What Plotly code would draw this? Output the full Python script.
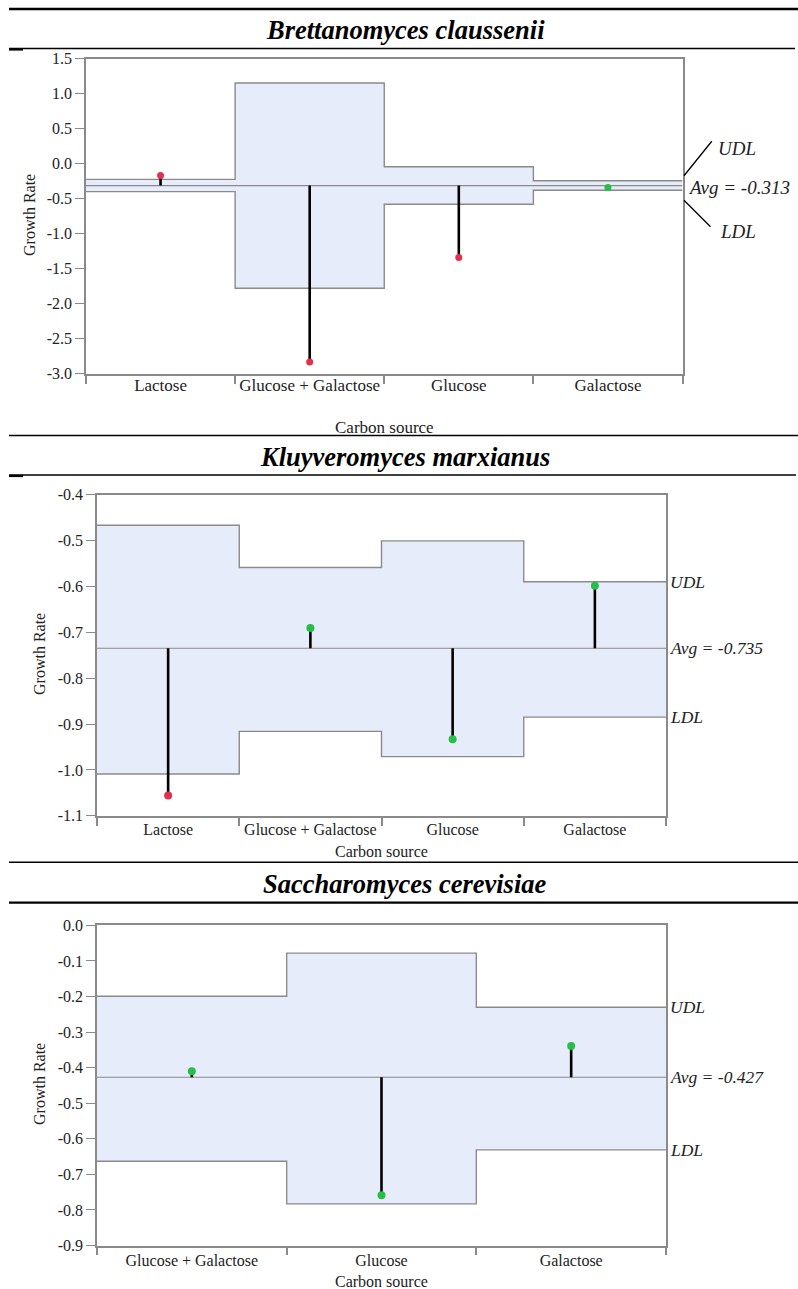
import plotly.graph_objects as go

W, H = 798, 1289

# ---------------- data ----------------
titles = ["Brettanomyces claussenii", "Kluyveromyces marxianus", "Saccharomyces cerevisiae"]

cats1 = ["Lactose", "Glucose + Galactose", "Glucose", "Galactose"]
vals1 = [-0.17, -2.83, -1.34, -0.34]
udl1 = [-0.225, 1.15, -0.045, -0.245]
ldl1 = [-0.40, -1.78, -0.58, -0.38]
avg1 = -0.313
ytick1 = [1.5, 1.0, 0.5, 0.0, -0.5, -1.0, -1.5, -2.0, -2.5, -3.0]
ytext1 = ["1.5", "1.0", "0.5", "0.0", "-0.5", "-1.0", "-1.5", "-2.0", "-2.5", "-3.0"]

cats2 = ["Lactose", "Glucose + Galactose", "Glucose", "Galactose"]
vals2 = [-1.056, -0.691, -0.933, -0.599]
udl2 = [-0.467, -0.559, -0.501, -0.590]
ldl2 = [-1.009, -0.916, -0.971, -0.885]
avg2 = -0.735
ytick2 = [-0.4, -0.5, -0.6, -0.7, -0.8, -0.9, -1.0, -1.1]
ytext2 = ["-0.4", "-0.5", "-0.6", "-0.7", "-0.8", "-0.9", "-1.0", "-1.1"]

cats3 = ["Glucose + Galactose", "Glucose", "Galactose"]
vals3 = [-0.41, -0.759, -0.339]
udl3 = [-0.199, -0.078, -0.230]
ldl3 = [-0.663, -0.783, -0.631]
avg3 = -0.427
ytick3 = [0.0, -0.1, -0.2, -0.3, -0.4, -0.5, -0.6, -0.7, -0.8, -0.9]
ytext3 = ["0.0", "-0.1", "-0.2", "-0.3", "-0.4", "-0.5", "-0.6", "-0.7", "-0.8", "-0.9"]

xlabel = "Carbon source"
ylabel = "Growth Rate"

# ---------------- styling ----------------
SERIF = "Liberation Serif, Times New Roman, serif"
GREY = "#8a8a8a"
BAND = "#e7ecfb"
RED = "#e4304d"
GREEN = "#25bf47"


def px(x):
    return x / W


def py(y):
    return 1 - y / H


panels = [
    dict(cats=cats1, vals=vals1, udl=udl1, ldl=ldl1, avg=avg1, yt=ytick1, ytt=ytext1,
         rng=[-3.0, 1.5], xd=(86, 682.5), yd=(58.5, 373.8), fs=17, msize=7, tso=-5,
         lab_fs=19, ttl_y=30, gr=(29, 215), cs_y=427),
    dict(cats=cats2, vals=vals2, udl=udl2, ldl=ldl2, avg=avg2, yt=ytick2, ytt=ytext2,
         rng=[-1.1, -0.4], xd=(97, 666), yd=(494.5, 815.8), fs=16, msize=8, tso=-2,
         lab_fs=17.5, ttl_y=457, gr=(39, 654), cs_y=851),
    dict(cats=cats3, vals=vals3, udl=udl3, ldl=ldl3, avg=avg3, yt=ytick3, ytt=ytext3,
         rng=[-0.9, 0.0], xd=(97, 666), yd=(925.4, 1245.5), fs=16, msize=8, tso=0,
         lab_fs=17.5, ttl_y=884, gr=(39, 1084), cs_y=1281),
]

fig = go.Figure()
annotations = []
shapes = []

for k, p in enumerate(panels):
    sfx = "" if k == 0 else str(k + 1)
    xa, ya = "x" + sfx, "y" + sfx
    n = len(p["cats"])
    edges = list(range(n + 1))
    centers = [i + 0.5 for i in range(n)]

    # upper decision limit (step)
    fig.add_trace(go.Scatter(x=edges, y=p["udl"] + [p["udl"][-1]], mode="lines",
                             line=dict(shape="hv", color=GREY, width=1.4),
                             xaxis=xa, yaxis=ya, hoverinfo="skip"))
    # lower decision limit (step) + shaded band
    fig.add_trace(go.Scatter(x=edges, y=p["ldl"] + [p["ldl"][-1]], mode="lines",
                             line=dict(shape="hv", color=GREY, width=1.4),
                             fill="tonexty", fillcolor=BAND,
                             xaxis=xa, yaxis=ya, hoverinfo="skip"))
    # average line
    fig.add_trace(go.Scatter(x=[0, n], y=[p["avg"], p["avg"]], mode="lines",
                             line=dict(color=GREY, width=1.2),
                             xaxis=xa, yaxis=ya, hoverinfo="skip"))
    # needles
    nx, ny = [], []
    for c, v in zip(centers, p["vals"]):
        nx += [c, c, None]
        ny += [p["avg"], v, None]
    fig.add_trace(go.Scatter(x=nx, y=ny, mode="lines",
                             line=dict(color="black", width=2.6),
                             xaxis=xa, yaxis=ya, hoverinfo="skip"))
    # points (red when outside the decision limits)
    cols = [RED if (v > u or v < l) else GREEN
            for v, u, l in zip(p["vals"], p["udl"], p["ldl"])]
    fig.add_trace(go.Scatter(x=centers, y=p["vals"], mode="markers",
                             marker=dict(color=cols, size=p["msize"], line=dict(width=0)),
                             xaxis=xa, yaxis=ya))

    x0, x1 = p["xd"]
    yt0, yb = p["yd"]
    fig.update_layout(**{
        "xaxis" + sfx: dict(
            domain=[px(x0), px(x1)], range=[0, n], anchor=ya, automargin=False,
            tickmode="array", tickvals=centers, ticktext=p["cats"], ticks="",
            ticklabelstandoff=p["tso"],
            showline=True, linecolor=GREY, linewidth=1.5, mirror=True,
            showgrid=False, zeroline=False, fixedrange=True,
            tickfont=dict(family=SERIF, size=p["fs"], color="#222"),
            minor=dict(tickmode="linear", tick0=0, dtick=1, ticks="outside",
                       ticklen=8, tickcolor=GREY, tickwidth=1.5, showgrid=False),
        ),
        "yaxis" + sfx: dict(
            domain=[py(yb), py(yt0)], range=p["rng"], anchor=xa, automargin=False,
            tickmode="array", tickvals=p["yt"], ticktext=p["ytt"],
            ticks="outside", ticklen=9, tickcolor=GREY, tickwidth=1.2,
            showline=True, linecolor=GREY, linewidth=1.5, mirror=True,
            showgrid=False, zeroline=False, fixedrange=True,
            tickfont=dict(family=SERIF, size=16, color="#222"),
        ),
    })

    annotations.append(dict(text="<b><i>%s</i></b>" % titles[k], xref="paper", yref="paper",
                            x=px(405), y=py(p["ttl_y"]), xanchor="center", yanchor="middle",
                            showarrow=False, font=dict(family=SERIF, size=26.5, color="black")))
    annotations.append(dict(text=xlabel, xref="paper", yref="paper",
                            x=px((x0 + x1) / 2), y=py(p["cs_y"]), xanchor="center",
                            yanchor="middle", showarrow=False,
                            font=dict(family=SERIF, size=p["fs"], color="#222")))
    annotations.append(dict(text=ylabel, xref="paper", yref="paper", textangle=-90,
                            x=px(p["gr"][0]), y=py(p["gr"][1]), xanchor="center",
                            yanchor="middle", showarrow=False,
                            font=dict(family=SERIF, size=16, color="#222")))

    lf = dict(family=SERIF, size=p["lab_fs"], color="#222")
    avg_txt = "<i>Avg = %.3f</i>" % p["avg"]
    if k == 0:
        annotations += [
            dict(text="<i>UDL</i>", xref="paper", yref=ya, x=px(716), y=p["udl"][-1],
                 yshift=32, xanchor="left", yanchor="middle", showarrow=False, font=lf),
            dict(text=avg_txt, xref="paper", yref=ya, x=px(686), y=p["avg"],
                 yshift=-2, xanchor="left", yanchor="middle", showarrow=False, font=lf),
            dict(text="<i>LDL</i>", xref="paper", yref=ya, x=px(718), y=p["ldl"][-1],
                 yshift=-41, xanchor="left", yanchor="middle", showarrow=False, font=lf),
            dict(text="", xref="paper", yref=ya, x=px(684), y=p["udl"][-1], yshift=5,
                 ax=29, ay=-36, showarrow=True, arrowhead=0, arrowwidth=1.3,
                 arrowcolor="black", standoff=0, startstandoff=0),
            dict(text="", xref="paper", yref=ya, x=px(684), y=p["ldl"][-1], yshift=-10,
                 ax=28, ay=28, showarrow=True, arrowhead=0, arrowwidth=1.3,
                 arrowcolor="black", standoff=0, startstandoff=0),
        ]
    else:
        annotations += [
            dict(text="<i>UDL</i>", xref="paper", yref=ya, x=px(668), y=p["udl"][-1],
                 xanchor="left", yanchor="middle", showarrow=False, font=lf),
            dict(text=avg_txt, xref="paper", yref=ya, x=px(668), y=p["avg"],
                 xanchor="left", yanchor="middle", showarrow=False, font=lf),
            dict(text="<i>LDL</i>", xref="paper", yref=ya, x=px(668), y=p["ldl"][-1],
                 xanchor="left", yanchor="middle", showarrow=False, font=lf),
        ]

# table rules
rules = [(9, 798, 9, 2.5), (9, 795, 48.5, 1.4), (9, 798, 435.5, 1.6),
         (9, 796, 475, 1.4), (9, 798, 862.3, 1.6), (9, 798, 902.7, 2.2)]
for xa0, xa1, yy, wd in rules:
    shapes.append(dict(type="line", xref="paper", yref="paper", x0=px(xa0), x1=px(xa1),
                       y0=py(yy), y1=py(yy), line=dict(color="black", width=wd)))
for yy in (49.5, 476):
    shapes.append(dict(type="line", xref="paper", yref="paper", x0=px(9), x1=px(23),
                       y0=py(yy), y1=py(yy), line=dict(color="black", width=2.2)))

fig.update_layout(width=W, height=H, margin=dict(l=0, r=0, t=0, b=0, pad=0, autoexpand=False),
                  paper_bgcolor="white", plot_bgcolor="white", showlegend=False,
                  annotations=annotations, shapes=shapes,
                  font=dict(family=SERIF))

fig.write_html(
    "out.html",
    config={"displayModeBar": False},
    post_script="document.body.style.margin='0';document.documentElement.style.overflow='hidden';",
)
